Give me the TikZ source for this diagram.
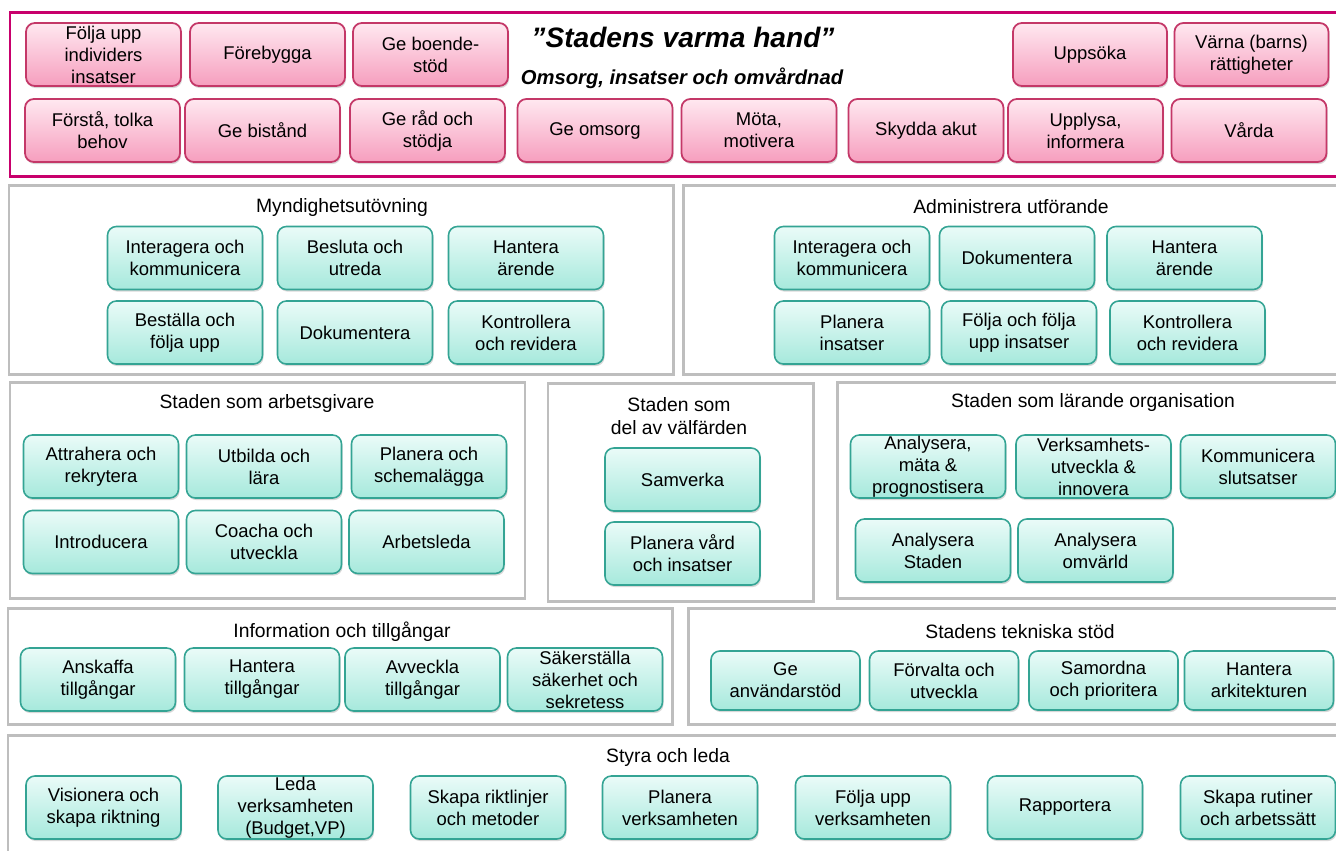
\documentclass[tikz,border=0pt]{standalone}
\usepackage{fontspec}
\setmainfont{Liberation Sans}
\usetikzlibrary{shadows}

\definecolor{tealline}{RGB}{52,164,148}
\definecolor{tealtop}{RGB}{234,251,248}
\definecolor{tealbot}{RGB}{166,233,220}
\definecolor{pinkline}{RGB}{196,56,104}
\definecolor{pinktop}{RGB}{255,232,240}
\definecolor{pinkbot}{RGB}{246,158,190}
\definecolor{magframe}{RGB}{200,0,108}
\definecolor{grayframe}{RGB}{190,190,190}

\tikzset{
  box/.style={rounded corners=5pt, align=center, inner xsep=2pt, inner ysep=0pt,
    minimum width=3.1cm, minimum height=1.26cm,
    font=\fontsize{10.5}{12.5}\selectfont,
    drop shadow={shadow xshift=0.6pt, shadow yshift=-1.2pt, opacity=0.3}},
  tbox/.style={box, draw=tealline, line width=0.9pt, top color=tealtop, bottom color=tealbot},
  pbox/.style={box, draw=pinkline, line width=1pt, top color=pinktop, bottom color=pinkbot},
  frame/.style={draw=grayframe, line width=1.7pt},
  ttl/.style={align=center, font=\fontsize{11}{13.5}\selectfont}
}

\begin{document}
\begin{tikzpicture}[x=0.02cm,y=-0.02cm]
\useasboundingbox[fill=white] (0,0) rectangle (1336,850);

% frames
\draw[draw=magframe, line width=1.7pt] (10,12) rectangle (1340,176);
\draw[frame] (9,185) rectangle (673,374);
\draw[frame] (683,185) rectangle (1340,374);
\draw[frame] (10,382) rectangle (525,598);
\draw[frame] (548,383) rectangle (813,601);
\draw[frame] (837,382) rectangle (1340,598);
\draw[frame] (8,608) rectangle (672,724);
\draw[frame] (688,608) rectangle (1340,724);
\draw[frame] (8,735) rectangle (1340,860);

% omsorg
\node[font=\fontsize{16}{19}\selectfont\bfseries\itshape] (hand) at (683,37) {”Stadens varma hand”};
\node[font=\fontsize{11.5}{14}\selectfont\bfseries\itshape] (omsorg) at (682,78) {Omsorg, insatser och omvårdnad};
\node[pbox] (p1) at (103.5,54.5) {Följa upp\\individers\\insatser};
\node[pbox] (p2) at (267.5,54.5) {Förebygga};
\node[pbox] (p3) at (430.5,54.5) {Ge boende-\\stöd};
\node[pbox, minimum width=3.08cm] (p4) at (1090,54.5) {Uppsöka};
\node[pbox, minimum width=3.08cm] (p5) at (1251.5,54.5) {Värna (barns)\\rättigheter};
\node[pbox] (q1) at (102.5,130.5) {Förstå, tolka\\behov};
\node[pbox] (q2) at (262.5,130.5) {Ge bistånd};
\node[pbox] (q3) at (427.5,130.5) {Ge råd och\\stödja};
\node[pbox] (q4) at (595,130.5) {Ge omsorg};
\node[pbox] (q5) at (759,130.5) {Möta,\\motivera};
\node[pbox] (q6) at (926,130.5) {Skydda akut};
\node[pbox] (q7) at (1085.5,130.5) {Upplysa,\\informera};
\node[pbox] (q8) at (1249,130.5) {Vårda};

% myndighetsutovning
\node[ttl] (mynd) at (342,207) {Myndighetsutövning};
\node[tbox] (m1) at (185,258) {Interagera och\\kommunicera};
\node[tbox] (m2) at (355,258) {Besluta och\\utreda};
\node[tbox] (m3) at (526,258) {Hantera\\ärende};
\node[tbox] (m4) at (185,332.5) {Beställa och\\följa upp};
\node[tbox] (m5) at (355,332.5) {Dokumentera};
\node[tbox] (m6) at (526,332.5) {Kontrollera\\och revidera};

% administrera
\node[ttl] (adm) at (1011,207) {Administrera utförande};
\node[tbox] (a1) at (852,258) {Interagera och\\kommunicera};
\node[tbox] (a2) at (1017,258) {Dokumentera};
\node[tbox] (a3) at (1184.5,258) {Hantera\\ärende};
\node[tbox] (a4) at (852,332.5) {Planera\\insatser};
\node[tbox] (a5) at (1019,332.5) {Följa och följa\\upp insatser};
\node[tbox] (a6) at (1187.5,332.5) {Kontrollera\\och revidera};

% arbetsgivare
\node[ttl] (arb) at (267,403) {Staden som arbetsgivare};
\node[tbox] (g1) at (101,466.5) {Attrahera och\\rekrytera};
\node[tbox] (g2) at (264,466.5) {Utbilda och\\lära};
\node[tbox] (g3) at (429,466.5) {Planera och\\schemalägga};
\node[tbox] (g4) at (101,542) {Introducera};
\node[tbox] (g5) at (264,542) {Coacha och\\utveckla};
\node[tbox] (g6) at (426.5,542) {Arbetsleda};

% valfarden
\node[ttl] (valf) at (679,416) {Staden som\\del av välfärden};
\node[tbox] (v1) at (682.5,479.5) {Samverka};
\node[tbox] (v2) at (682.5,553.5) {Planera vård\\och insatser};

% larande
\node[ttl] (lar) at (1093,402) {Staden som lärande organisation};
\node[tbox] (l1) at (928,466.5) {Analysera,\\mäta \&\\prognostisera};
\node[tbox] (l2) at (1093.5,466.5) {Verksamhets-\\utveckla \&\\innovera};
\node[tbox] (l3) at (1258,466.5) {Kommunicera\\slutsatser};
\node[tbox] (l4) at (933,550.5) {Analysera\\Staden};
\node[tbox] (l5) at (1095.5,550.5) {Analysera\\omvärld};

% information
\node[ttl] (info) at (342,632) {Information och tillgångar};
\node[tbox] (i1) at (98,679.5) {Anskaffa\\tillgångar};
\node[tbox] (i2) at (262,679.5) {Hantera\\tillgångar};
\node[tbox] (i3) at (422.5,679.5) {Avveckla\\tillgångar};
\node[tbox] (i4) at (585,679.5) {Säkerställa\\säkerhet och\\sekretess};

% tekniska stod
\node[ttl] (tek) at (1020,632) {Stadens tekniska stöd};
\node[tbox, minimum width=2.98cm, minimum height=1.18cm] (t1) at (785.5,680.5) {Ge\\användarstöd};
\node[tbox, minimum width=2.98cm, minimum height=1.18cm] (t2) at (944,680.5) {Förvalta och\\utveckla};
\node[tbox, minimum width=2.98cm, minimum height=1.18cm] (t3) at (1103.5,680.5) {Samordna\\och prioritera};
\node[tbox, minimum width=2.98cm, minimum height=1.18cm] (t4) at (1259,680.5) {Hantera\\arkitekturen};

% styra och leda
\node[ttl] (styr) at (668,757) {Styra och leda};
\node[tbox] (s1) at (103.5,807.5) {Visionera och\\skapa riktning};
\node[tbox] (s2) at (295.5,807.5) {Leda\\verksamheten\\(Budget,VP)};
\node[tbox] (s3) at (488,807.5) {Skapa riktlinjer\\och metoder};
\node[tbox] (s4) at (680,807.5) {Planera\\verksamheten};
\node[tbox] (s5) at (873,807.5) {Följa upp\\verksamheten};
\node[tbox] (s6) at (1065,807.5) {Rapportera};
\node[tbox] (s7) at (1258,807.5) {Skapa rutiner\\och arbetssätt};
\end{tikzpicture}
\end{document}
